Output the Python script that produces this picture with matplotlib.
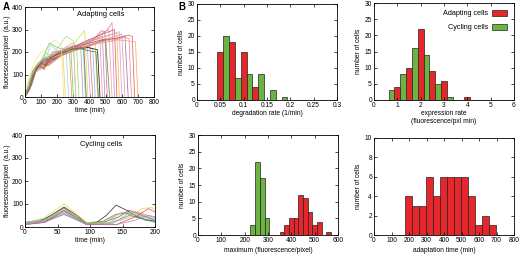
import matplotlib
matplotlib.use("Agg")
import matplotlib.pyplot as plt
from matplotlib.patches import Patch

plt.rcParams['font.family'] = ['Liberation Sans', 'DejaVu Sans']

# ---------------- data ----------------
# Adapting cells: each trace is (times, values)
adapt_times = [
    [0, 25, 55, 95, 130, 160, 200, 235, 250],
    [5, 30, 60, 100, 130, 160, 210, 255, 270],
    [0, 20, 50, 90, 120, 140, 190, 240, 275, 290],
    [10, 35, 70, 110, 140, 170, 230, 280, 300, 315],
    [0, 30, 60, 100, 130, 160, 220, 270, 300, 320, 335],
    [5, 25, 60, 100, 125, 150, 210, 260, 300, 345, 360],
    [0, 25, 55, 90, 120, 140, 200, 260, 310, 360, 375],
    [10, 40, 80, 120, 150, 180, 240, 300, 340, 370, 390],
    [0, 20, 55, 95, 125, 150, 210, 270, 330, 385, 405],
    [5, 30, 65, 110, 140, 170, 230, 290, 350, 400, 420],
    [0, 25, 60, 100, 130, 160, 220, 280, 340, 400, 420, 435],
    [10, 35, 70, 110, 140, 170, 230, 290, 350, 410, 435, 450],
    [0, 30, 60, 100, 150, 210, 270, 330, 390, 450, 465],
    [5, 25, 55, 90, 120, 140, 200, 260, 330, 400, 465, 480],
    [0, 20, 50, 90, 120, 150, 220, 290, 360, 420, 480, 495],
    [10, 40, 75, 115, 145, 170, 230, 300, 370, 430, 475, 495, 510],
    [0, 25, 60, 100, 130, 160, 230, 300, 370, 440, 500, 525],
    [5, 30, 65, 105, 135, 165, 235, 305, 375, 445, 520, 540],
    [0, 20, 55, 95, 120, 150, 220, 290, 360, 430, 500, 540, 555],
    [10, 35, 70, 110, 140, 170, 240, 310, 380, 450, 520, 555, 570],
    [0, 25, 60, 100, 130, 160, 230, 300, 370, 440, 510, 570, 585],
    [5, 30, 60, 100, 135, 170, 240, 310, 380, 450, 520, 585, 600],
    [0, 20, 50, 90, 120, 150, 220, 300, 380, 460, 540, 600, 620],
    [10, 40, 75, 115, 150, 180, 250, 320, 400, 480, 560, 620, 640],
    [0, 25, 60, 100, 130, 160, 230, 310, 390, 470, 550, 620, 645, 660],
    [5, 30, 65, 105, 135, 170, 240, 320, 400, 480, 560, 640, 665, 680],
    [0, 20, 55, 95, 125, 160, 230, 310, 390, 470, 550, 630, 685, 700],
    [0, 30, 60, 100, 125, 150, 200, 255, 300, 315],
    [5, 25, 50, 90, 115, 140, 200, 250, 300, 350, 365, 380],
    [0, 25, 60, 100, 130, 160, 220, 280, 340, 400, 440, 455],
    [0, 15, 40, 70, 100, 140, 180, 225, 240],
    [5, 20, 45, 80, 110, 150, 200, 250, 285, 300],
]
adapt_values = [
    [10, 30, 110, 155, 140, 185, 175, 200, 0],
    [5, 40, 120, 145, 175, 230, 200, 215, 0],
    [15, 35, 100, 145, 130, 165, 190, 200, 205, 0],
    [8, 45, 130, 165, 150, 195, 210, 235, 240, 0],
    [20, 50, 125, 150, 180, 170, 200, 215, 225, 220, 0],
    [10, 30, 115, 130, 160, 150, 175, 200, 230, 230, 0],
    [12, 40, 120, 150, 135, 175, 200, 215, 220, 245, 0],
    [15, 60, 140, 160, 190, 170, 215, 230, 270, 295, 0],
    [5, 30, 110, 120, 150, 140, 190, 210, 225, 240, 0],
    [20, 50, 130, 170, 150, 200, 200, 220, 230, 255, 0],
    [10, 35, 115, 135, 165, 150, 190, 205, 215, 220, 215, 0],
    [15, 45, 125, 155, 140, 180, 195, 215, 225, 235, 240, 0],
    [10, 40, 120, 150, 160, 180, 200, 215, 220, 210, 0],
    [5, 30, 105, 140, 120, 155, 185, 210, 225, 250, 260, 0],
    [15, 40, 120, 145, 175, 165, 205, 225, 235, 250, 270, 0],
    [10, 50, 130, 155, 140, 175, 200, 215, 235, 260, 295, 290, 0],
    [20, 40, 125, 145, 170, 160, 190, 210, 220, 240, 255, 0],
    [10, 45, 120, 150, 135, 170, 200, 220, 240, 270, 300, 0],
    [5, 25, 110, 130, 160, 150, 185, 205, 230, 260, 290, 330, 0],
    [15, 50, 130, 160, 145, 185, 205, 225, 250, 270, 290, 300, 0],
    [10, 40, 115, 150, 135, 170, 190, 210, 235, 255, 270, 285, 0],
    [20, 45, 120, 140, 170, 175, 200, 220, 245, 265, 275, 290, 0],
    [10, 30, 110, 150, 130, 170, 195, 215, 235, 250, 265, 280, 0],
    [15, 55, 135, 150, 180, 165, 200, 225, 240, 255, 260, 270, 0],
    [5, 35, 115, 140, 160, 150, 185, 205, 225, 240, 250, 265, 260, 0],
    [10, 45, 125, 155, 140, 170, 190, 215, 230, 250, 260, 275, 270, 0],
    [15, 30, 110, 130, 155, 145, 190, 210, 230, 245, 255, 250, 245, 0],
    [12, 40, 130, 165, 200, 185, 215, 270, 250, 0],
    [15, 35, 100, 140, 125, 165, 190, 200, 215, 220, 215, 0],
    [10, 35, 110, 150, 140, 175, 195, 210, 215, 205, 200, 0],
    [20, 60, 120, 170, 200, 215, 255, 230, 0],
    [10, 55, 110, 150, 165, 240, 220, 210, 205, 0],
]
adapt_colors = ['#f2d04a', '#8fd3ef', '#f0923a', '#ee8cbf', '#9ad67e', '#9e9e9e',
                '#5bc7c7', '#d9d94c', '#c7a0d8', '#e36c6c', '#7fb2e5', '#f4b860',
                '#000000', '#e58fa8', '#b07cc6', '#e06666', '#2f8f4e', '#f29a9a',
                '#d07bd0', '#e74c3c', '#f5b041', '#c8a2e0', '#ef8a8a', '#8c6bb1',
                '#f07fa0', '#dd5555', '#f2a65a', '#b5e07a', '#a0522d', '#3d7a3d',
                '#f7e07a', '#6fc06f']

# Cycling cells
cyc_times = [
    [0, 20, 40, 60, 80, 95, 110, 125, 140, 155, 170, 185, 200],
    [0, 30, 60, 95, 120, 145, 160, 175, 200],
    [0, 30, 60, 95, 125, 150, 165, 185, 200],
    [0, 30, 60, 95, 130, 160, 180, 200],
    [0, 30, 60, 92, 120, 140, 155, 175, 200],
    [0, 30, 60, 95, 130, 160, 180, 195, 200],
    [0, 30, 60, 95, 135, 165, 185, 200],
    [0, 30, 60, 95, 125, 150, 175, 200],
    [0, 30, 60, 95, 140, 170, 190, 200],
    [0, 30, 60, 95, 140, 170, 190, 200],
    [0, 30, 60, 95, 130, 155, 180, 200],
]
cyc_values = [
    [15, 20, 50, 87, 50, 15, 20, 50, 95, 75, 50, 30, 25],
    [18, 25, 73, 12, 20, 45, 73, 55, 30],
    [12, 20, 65, 10, 15, 35, 55, 45, 25],
    [15, 25, 55, 15, 15, 50, 35, 20],
    [20, 35, 82, 18, 25, 55, 60, 40, 25],
    [15, 40, 100, 20, 15, 40, 80, 85, 75],
    [15, 25, 60, 10, 15, 70, 55, 40],
    [15, 30, 75, 15, 25, 65, 60, 35],
    [10, 20, 70, 12, 10, 45, 80, 65],
    [12, 20, 55, 10, 10, 30, 50, 45],
    [18, 30, 68, 14, 20, 62, 45, 30],
]
cyc_colors = ['#222222', '#e03a3a', '#ee8cbf', '#6cbf5a', '#2f7f5f', '#f2d04a',
              '#7fa7e5', '#f0923a', '#d94545', '#b07cc6', '#5bc7c7']

# Degradation rate histogram
deg_red_x = [0.05, 0.075, 0.1, 0.125]
deg_red_n = [15, 18, 15, 4]
deg_green_x = [0.0625, 0.0875, 0.1125, 0.1375, 0.1625, 0.1875]
deg_green_n = [20, 7, 8, 8, 3, 1]

# Expression rate histogram
exp_red_x = [1.0, 1.5, 2.0, 2.5, 3.0, 3.5, 4.0]
exp_red_n = [4, 10, 22, 9, 6, 0, 1]
exp_green_x = [0.75, 1.25, 1.75, 2.25, 2.75, 3.25]
exp_green_n = [3, 8, 16, 14, 5, 1]

# Maximum histogram
max_green_x = [235, 255, 275, 295]
max_green_n = [3, 22, 17, 5]
max_red_x = [360, 380, 400, 420, 440, 460, 480, 500, 520, 540, 560]
max_red_n = [1, 3, 5, 5, 12, 11, 7, 3, 4, 0, 1]

# Adaptation time histogram
ad_x = [195, 235, 275, 315, 355, 395, 435, 475, 515, 555, 595, 635, 675]
ad_n = [4, 3, 3, 6, 4, 6, 6, 6, 6, 4, 1, 2, 1]

RED = '#e5262b'
GREEN = '#6db33f'

# ---------------- figure ----------------
W, H = 520, 258
fig = plt.figure(figsize=(W / 100, H / 100), dpi=100)


def add_ax(l, r, t, b):
    return fig.add_axes([l / W, 1 - b / H, (r - l) / W, (b - t) / H])


FS = 4.8


def style(ax):
    ax.tick_params(direction='in', length=2, width=0.5, labelsize=FS,
                   top=True, right=True, pad=1.5)
    for s in ax.spines.values():
        s.set_linewidth(0.6)


# A top
ax = add_ax(25, 154, 7, 97)
for t, v, c in zip(adapt_times, adapt_values, adapt_colors):
    ax.plot(t, v, color=c, lw=0.55, alpha=0.9)
ax.set_xlim(0, 800)
ax.set_ylim(0, 400)
ax.set_xticks(range(0, 801, 100))
ax.set_yticks(range(0, 401, 100))
ax.set_xlabel('time (min)', fontsize=FS, labelpad=1)
ax.set_ylabel('fluorescence/pixel  (a.u.)', fontsize=FS, labelpad=1)
ax.text(470, 365, 'Adapting cells', fontsize=5.4, ha='center', va='center')
style(ax)

# A bottom
ax = add_ax(25, 155, 135, 227)
for t, v, c in zip(cyc_times, cyc_values, cyc_colors):
    ax.plot(t, v, color=c, lw=0.55, alpha=0.9)
ax.set_xlim(0, 200)
ax.set_ylim(0, 400)
ax.set_xticks(range(0, 201, 50))
ax.set_yticks(range(0, 401, 100))
ax.set_xlabel('time (min)', fontsize=FS, labelpad=1)
ax.set_ylabel('fluorescence/pixel  (a.u.)', fontsize=FS, labelpad=1)
ax.text(117, 357, 'Cycling cells', fontsize=5.4, ha='center', va='center')
style(ax)

bar_kw = dict(edgecolor='#222222', linewidth=0.5)

# B degradation
ax = add_ax(197, 337, 4, 100)
ax.bar(deg_red_x, deg_red_n, width=0.0125, color=RED, **bar_kw)
ax.bar(deg_green_x, deg_green_n, width=0.0125, color=GREEN, **bar_kw)
ax.set_xlim(0, 0.3)
ax.set_ylim(0, 30)
ax.set_xticks([0, 0.05, 0.1, 0.15, 0.2, 0.25, 0.3])
ax.set_xticklabels(['0', '0.05', '0.1', '0.15', '0.2', '0.25', '0.3'])
ax.set_yticks(range(0, 31, 5))
ax.set_xlabel('degradation rate (1/min)', fontsize=FS, labelpad=1)
ax.set_ylabel('number of cells', fontsize=FS, labelpad=2)
style(ax)

# B expression
ax = add_ax(374, 514, 3, 100)
ax.bar(exp_red_x, exp_red_n, width=0.25, color=RED, **bar_kw)
ax.bar(exp_green_x, exp_green_n, width=0.25, color=GREEN, **bar_kw)
ax.set_xlim(0, 6)
ax.set_ylim(0, 30)
ax.set_xticks(range(0, 7))
ax.set_yticks(range(0, 31, 5))
ax.set_xlabel('expression rate\n(fluorescence/pxl min)', fontsize=FS, labelpad=1,
              linespacing=1.2)
ax.set_ylabel('number of cells', fontsize=FS, labelpad=2)
handles = [Patch(facecolor=RED, edgecolor='#222222', linewidth=0.5, label='Adapting cells'),
           Patch(facecolor=GREEN, edgecolor='#222222', linewidth=0.5, label='Cycling cells')]
ax.legend(handles=handles, loc='upper right', markerfirst=False, frameon=False,
          fontsize=5.2, handlelength=2.0, handleheight=0.8, borderaxespad=0.6,
          labelspacing=0.9, handletextpad=0.6)
style(ax)

# B maximum
ax = add_ax(198, 338, 135, 235)
ax.bar(max_green_x, max_green_n, width=20, color=GREEN, **bar_kw)
ax.bar(max_red_x, max_red_n, width=20, color=RED, **bar_kw)
ax.set_xlim(0, 600)
ax.set_ylim(0, 30)
ax.set_xticks(range(0, 601, 100))
ax.set_yticks(range(0, 31, 5))
ax.set_xlabel('maximum (fluorescence/pixel)', fontsize=FS, labelpad=2)
ax.set_ylabel('number of cells', fontsize=FS, labelpad=2)
style(ax)

# B adaptation time
ax = add_ax(374, 514, 138, 235)
ax.bar(ad_x, ad_n, width=40, color=RED, **bar_kw)
ax.set_xlim(0, 800)
ax.set_ylim(0, 10)
ax.set_xticks(range(0, 801, 100))
ax.set_yticks(range(0, 11, 2))
ax.set_xlabel('adaptation time (min)', fontsize=FS, labelpad=2)
ax.set_ylabel('number of cells', fontsize=FS, labelpad=2)
style(ax)

fig.text(3 / W, 1 - 7 / H, 'A', fontsize=7, fontweight='bold', va='center', ha='left')
fig.text(178 / W, 1 - 7 / H, 'B', fontsize=7, fontweight='bold', va='center', ha='left')

fig.savefig('out.png', dpi=100)
